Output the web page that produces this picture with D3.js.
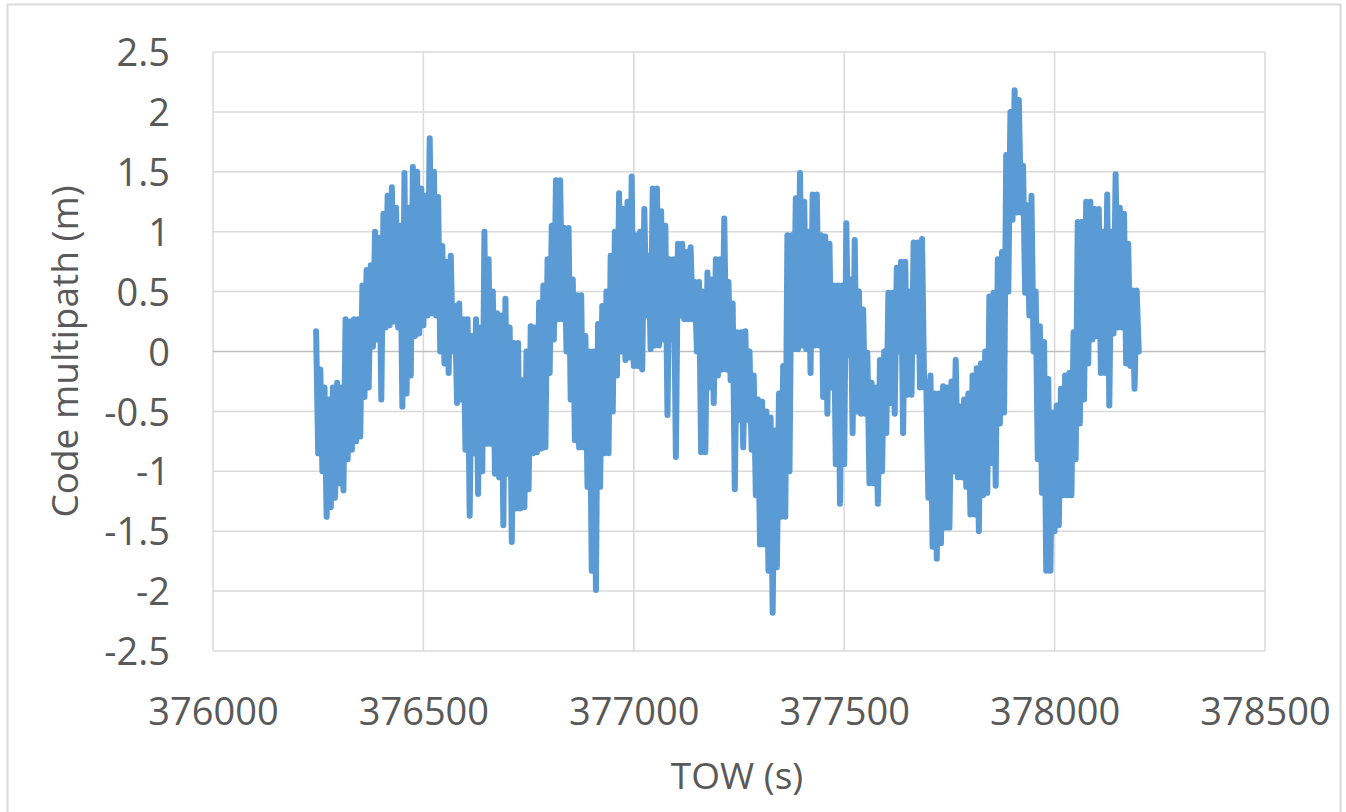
<!DOCTYPE html>
<html>
<head>
<meta charset="utf-8">
<script src="https://cdn.jsdelivr.net/npm/d3@7"></script>
<style>
    body { margin: 0; background: #fff; }
    svg text { font-family: "Open Sans", "Noto Sans", sans-serif; fill: #595959; }
</style>
</head>
<body>
<div id="chart"></div>
<script>
// TOW of the first sample and sample spacing (s)
var towStart = 376245;
var towStep = 5;
// Code multipath (m), one value per sample (crest, trough, crest, ...)
var multipath = [
    0.17, -0.85, -0.15, -1.0, -0.3, -1.38, -0.4, -1.3, -0.3, -1.22,
    -0.26, -1.1, -0.3, -1.16, 0.27, -0.9, 0.25, -0.82, 0.27, -0.75,
    0.27, -0.71, 0.55, -0.38, 0.68, -0.3, 0.72, 0.04, 1.0, 0.1,
    0.95, -0.4, 1.15, 0.2, 1.3, 0.22, 1.37, 0.25, 1.2, 0.2,
    1.05, -0.46, 1.49, -0.35, 1.2, -0.2, 1.54, 0.13, 1.5, 0.15,
    1.36, 0.22, 1.3, 0.3, 1.78, 0.32, 1.5, 0.3, 1.29, 0.0,
    0.88, -0.1, 0.75, -0.18, 0.8, 0.0, 0.38, -0.43, 0.4, -0.4,
    0.27, -0.82, 0.27, -1.37, 0.13, -0.85, 0.27, -1.19, 0.2, -1.0,
    1.0, -0.77, 0.77, -0.77, 0.5, -1.02, 0.32, -1.05, 0.3, -1.45,
    0.44, -1.02, 0.2, -1.59, 0.07, -1.31, 0.07, -1.31, -0.24, -1.3,
    0.0, -1.15, 0.21, -0.85, 0.2, -0.84, 0.41, -0.81, 0.55, -0.8,
    0.77, -0.18, 1.05, 0.1, 1.43, 0.27, 1.43, 0.27, 1.03, 0.0,
    1.03, -0.4, 0.6, -0.74, 0.47, -0.8, 0.47, -0.8, 0.13, -1.13,
    0.0, -1.83, 0.0, -1.99, 0.23, -1.13, 0.38, -0.85, 0.5, -0.85,
    0.8, -0.5, 1.0, -0.2, 1.32, 0.0, 1.19, -0.07, 1.25, -0.05,
    1.46, -0.12, 0.97, -0.12, 1.0, -0.15, 1.19, 0.3, 0.8, 0.02,
    1.36, 0.05, 1.36, 0.05, 1.17, 0.1, 1.05, -0.53, 0.77, 0.1,
    0.77, -0.88, 0.9, 0.3, 0.9, 0.27, 0.83, 0.27, 0.87, 0.27,
    0.58, 0.0, 0.58, -0.84, 0.5, -0.84, 0.66, -0.3, 0.6, -0.43,
    0.77, -0.2, 0.77, -0.15, 1.11, -0.15, 0.58, -0.24, 0.4, -1.15,
    0.16, -0.57, 0.16, -0.8, 0.17, -0.57, 0.0, -0.82, -0.2, -1.2,
    -0.4, -1.61, -0.42, -1.61, -0.5, -1.83, -0.55, -2.18, -0.66, -1.8,
    -0.35, -1.38, -0.12, -1.38, 0.97, -1.0, 0.97, 0.02, 1.28, 0.02,
    1.49, 0.05, 1.25, 0.02, 1.0, -0.18, 1.31, 0.05, 1.31, 0.05,
    0.97, -0.38, 0.96, -0.52, 0.9, -0.3, 0.55, -0.94, 0.55, -1.27,
    0.55, -0.94, 1.07, -0.03, 0.6, -0.68, 0.93, -0.5, 0.5, -0.52,
    0.35, -0.52, -0.01, -1.1, -0.26, -1.1, -0.3, -1.27, -0.07, -1.0,
    0.0, -0.68, 0.49, -0.43, 0.49, -0.52, 0.7, 0.0, 0.75, -0.68,
    0.75, -0.36, 0.5, -0.36, 0.91, 0.0, 0.91, -0.3, 0.94, -0.3,
    -0.25, -1.22, -0.2, -1.63, -0.35, -1.73, -0.35, -1.6, -0.29, -1.47,
    -0.3, -1.47, -0.25, -1.0, -0.07, -1.05, -0.46, -1.05, -0.4, -1.13,
    -0.35, -1.36, -0.2, -1.36, -0.14, -1.5, -0.1, -1.2, 0.0, -1.18,
    0.46, -0.93, 0.49, -1.12, 0.77, -0.6, 0.83, -0.51, 1.64, 0.5,
    2.0, 1.1, 2.18, 1.16, 2.1, 1.16, 1.55, 0.49, 1.22, 0.3,
    1.3, 0.0, 0.5, -0.9, 0.21, -1.18, 0.08, -1.83, -0.23, -1.83,
    -0.51, -1.5, -0.45, -1.45, -0.31, -1.2, -0.2, -1.2, -0.18, -1.2,
    0.16, -0.9, 1.08, -0.6, 1.08, -0.4, 1.25, -0.1, 1.25, 0.1,
    1.19, 0.13, 1.19, -0.18, 1.0, -0.18, 1.31, -0.45, 1.0, 0.15,
    1.48, 0.2, 1.2, 0.2, 1.15, -0.1, 0.9, -0.12, 0.51, -0.31,
    0.51, 0.0
];
var xTicks = [376000, 376500, 377000, 377500, 378000, 378500];
var yTicks = [2.5, 2, 1.5, 1, 0.5, 0, -0.5, -1, -1.5, -2, -2.5];

var width = 1346, height = 812;
var margin = {top: 52, right: 81, bottom: 161, left: 213};
var plotW = width - margin.left - margin.right,
    plotH = height - margin.top - margin.bottom;

var svg = d3.select("#chart")
    .append("svg")
    .attr("width", width)
    .attr("height", height);

// chart area border
svg.append("rect")
    .attr("x", 7.5).attr("y", 4.5)
    .attr("width", 1333).attr("height", 830)
    .attr("fill", "#fff")
    .attr("stroke", "#d9d9d9")
    .attr("stroke-width", 2);

var g = svg.append("g")
    .attr("transform", "translate(" + margin.left + "," + margin.top + ")");

var x = d3.scaleLinear().domain([376000, 378500]).range([0, plotW]);
var y = d3.scaleLinear().domain([-2.5, 2.5]).range([plotH, 0]);

// gridlines
g.selectAll(".vgrid")
    .data(xTicks)
    .enter()
    .append("line")
    .attr("x1", function(d) { return x(d); })
    .attr("x2", function(d) { return x(d); })
    .attr("y1", 0).attr("y2", plotH)
    .attr("stroke", "#d9d9d9")
    .attr("stroke-width", 1.5);
g.selectAll(".hgrid")
    .data(yTicks)
    .enter()
    .append("line")
    .attr("x1", 0).attr("x2", plotW)
    .attr("y1", function(d) { return y(d); })
    .attr("y2", function(d) { return y(d); })
    .attr("stroke", function(d) { return d == 0 ? "#bfbfbf" : "#d9d9d9"; })
    .attr("stroke-width", 1.5);

// axes, labels only
var xAxis = g.append("g")
    .attr("transform", "translate(0," + plotH + ")")
    .call(d3.axisBottom(x).tickValues(xTicks).tickFormat(d3.format("d")).tickSize(0).tickPadding(74));
xAxis.select(".domain").remove();
xAxis.selectAll("text").style("font-size", "38px").attr("dy", 0);

var yAxis = g.append("g")
    .call(d3.axisLeft(y).tickValues(yTicks).tickFormat(function(d) { return String(d); }).tickSize(0).tickPadding(43));
yAxis.select(".domain").remove();
yAxis.selectAll("text").style("font-size", "38px").attr("dy", "0.36em");

// series
var line = d3.line()
    .x(function(d, i) { return x(towStart + i * towStep); })
    .y(function(d) { return y(d); });
g.append("path")
    .datum(multipath)
    .attr("d", line)
    .attr("fill", "none")
    .attr("stroke", "#5b9bd5")
    .attr("stroke-width", 6)
    .attr("stroke-linejoin", "round")
    .attr("stroke-linecap", "round");

// axis titles
svg.append("text")
    .attr("x", 737)
    .attr("y", 789)
    .attr("text-anchor", "middle")
    .style("font-size", "37px")
    .text("TOW (s)");
svg.append("text")
    .attr("transform", "translate(78," + (margin.top + plotH / 2) + ")rotate(-90)")
    .attr("text-anchor", "middle")
    .style("font-size", "37px")
    .text("Code multipath (m)");
</script>
</body>
</html>
